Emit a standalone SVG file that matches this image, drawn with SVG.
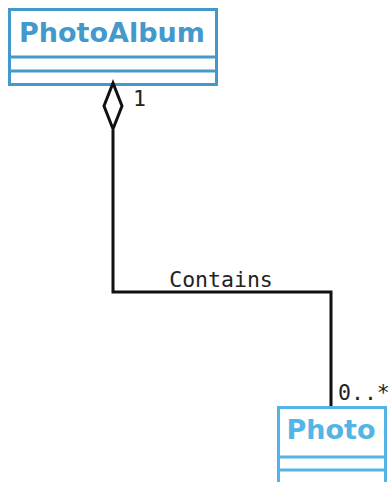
<svg xmlns="http://www.w3.org/2000/svg" width="391" height="482" viewBox="0 0 391 482">
<style>
.cls{fill:#fff;stroke-width:3}
.name{font-family:"DejaVu Sans",sans-serif;font-weight:bold;font-size:27px;text-anchor:middle}
.lbl{font-family:"DejaVu Sans Mono",monospace;font-size:21.5px;fill:#222}
.edge{fill:none;stroke:#111;stroke-width:3}
</style>
<rect width="391" height="482" fill="#fff"/>
<g id="PhotoAlbum">
<rect class="cls" x="9.5" y="9.5" width="207" height="75" stroke="#4499cc"/>
<line x1="9.5" y1="57" x2="216.5" y2="57" stroke="#4499cc" stroke-width="3"/>
<line x1="9.5" y1="71" x2="216.5" y2="71" stroke="#4499cc" stroke-width="3"/>
<text class="name" x="112" y="42" fill="#4499cc">PhotoAlbum</text>
</g>
<g id="Photo">
<rect class="cls" x="278.5" y="407.5" width="107" height="90" stroke="#55b4e6"/>
<line x1="278.5" y1="457" x2="385.5" y2="457" stroke="#55b4e6" stroke-width="3"/>
<line x1="278.5" y1="470" x2="385.5" y2="470" stroke="#55b4e6" stroke-width="3"/>
<text class="name" x="331" y="439" fill="#55b4e6">Photo</text>
</g>
<g id="connectors">
<polyline class="edge" points="113,130 113,292 331,292 331,406"/>
<polygon points="113,83 122,106 113,129 104,106" fill="#fff" stroke="#111" stroke-width="3"/>
<text class="lbl" x="133" y="106">1</text>
<text class="lbl" x="221" y="287" text-anchor="middle">Contains</text>
<text class="lbl" x="338" y="400">0..*</text>
</g>
</svg>
